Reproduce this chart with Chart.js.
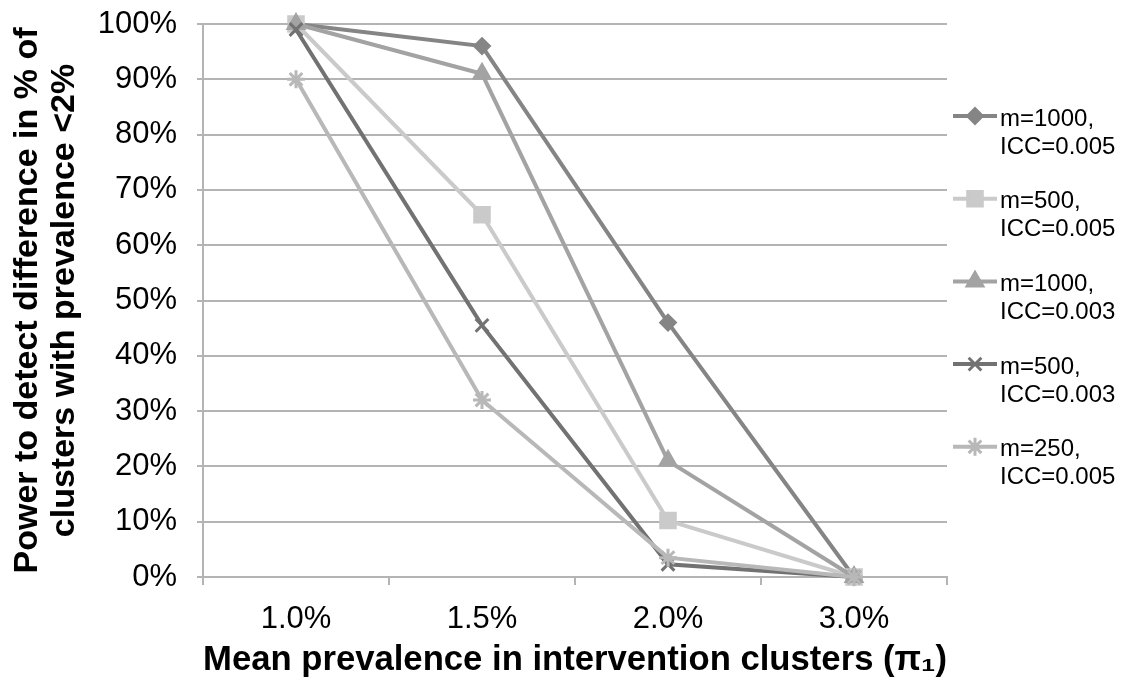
<!DOCTYPE html>
<html>
<head>
<meta charset="utf-8">
<script src="https://cdn.jsdelivr.net/npm/chart.js@4/dist/chart.umd.min.js"></script>
<style>
  html, body { margin: 0; padding: 0; background: #fff; }
  #wrap { width: 1138px; height: 683px; position: relative; }
</style>
</head>
<body>
<div id="wrap"><canvas id="power-chart" width="1138" height="683"></canvas></div>
<script>
// data
const categories = ['1.0%', '1.5%', '2.0%', '3.0%'];
const seriesNames = [
  ['m=1000,', 'ICC=0.005'],
  ['m=500,', 'ICC=0.005'],
  ['m=1000,', 'ICC=0.003'],
  ['m=500,', 'ICC=0.003'],
  ['m=250,', 'ICC=0.005']
];
const m1000Icc005 = [100, 96, 46, 0];
const m500Icc005 = [100, 65.5, 10.2, 0];
const m1000Icc003 = [100, 91, 21, 0];
const m500Icc003 = [99, 45.5, 2.3, 0];
const m250Icc005 = [90, 32, 3.5, 0];

const FONT = "'Liberation Sans', Arial, sans-serif";
const GRID = '#b4b4b4';

const styles = [
  { color: '#858585', point: 'rectRot', radius: 8, bw: 2 },
  { color: '#cacaca', point: 'rect', radius: 11, bw: 2 },
  { color: '#a3a3a3', point: 'triangle', radius: 10, bw: 2 },
  { color: '#727272', point: 'crossRot', radius: 9, bw: 3 },
  { color: '#b8b8b8', point: 'star', radius: 9, bw: 3 }
];
const seriesData = [m1000Icc005, m500Icc005, m1000Icc003, m500Icc003, m250Icc005];

const datasets = seriesData.map((d, i) => ({
  label: seriesNames[i].join(' '),
  data: d,
  borderColor: styles[i].color,
  backgroundColor: styles[i].color,
  borderWidth: 4,
  pointStyle: styles[i].point,
  pointRadius: styles[i].radius,
  pointBorderWidth: styles[i].bw,
  pointBackgroundColor: styles[i].color,
  pointBorderColor: styles[i].color,
  tension: 0,
  clip: false,
  order: 5 - i
}));

// legend at the right: line + marker + two-line label
const sideLegend = {
  id: 'sideLegend',
  afterDraw(chart) {
    const ctx = chart.ctx;
    ctx.save();
    seriesNames.forEach((lines, i) => {
      const st = styles[i];
      const y = 116 + 82.7 * i;
      ctx.strokeStyle = st.color;
      ctx.lineWidth = 4;
      ctx.beginPath();
      ctx.moveTo(953, y);
      ctx.lineTo(997, y);
      ctx.stroke();
      ctx.fillStyle = st.color;
      ctx.lineWidth = st.bw;
      Chart.helpers.drawPoint(ctx, { pointStyle: st.point, radius: st.radius, borderWidth: st.bw, rotation: 0 }, 975, y);
      ctx.fillStyle = '#000';
      ctx.font = '24px ' + FONT;
      ctx.textAlign = 'left';
      ctx.textBaseline = 'middle';
      ctx.fillText(lines[0], 1000, y + 3);
      ctx.fillText(lines[1], 1000, y + 31);
    });
    ctx.restore();
  }
};

const ctx = document.getElementById('power-chart').getContext('2d');
new Chart(ctx, {
  type: 'line',
  data: { labels: categories, datasets: datasets },
  options: {
    responsive: false,
    animation: false,
    devicePixelRatio: 1,
    layout: { padding: { top: 24, right: 191, left: 0, bottom: 0 } },
    plugins: {
      legend: { display: false },
      tooltip: { enabled: false }
    },
    scales: {
      x: {
        offset: true,
        grid: {
          offset: true,
          drawOnChartArea: false,
          drawTicks: true,
          tickLength: 8,
          color: GRID,
          lineWidth: 2
        },
        border: { color: GRID, width: 2 },
        ticks: {
          color: '#000',
          font: { family: FONT, size: 31 },
          padding: 16,
          maxRotation: 0
        },
        title: {
          display: true,
          text: 'Mean prevalence in intervention clusters (\u03c0\u2081)',
          color: '#000',
          font: { family: FONT, size: 35.5, weight: 'bold' },
          padding: { top: 0, bottom: 1 }
        },
        afterFit(scale) {
          scale.height = 106;
          scale.paddingLeft = 0;
          scale.paddingRight = 0;
        }
      },
      y: {
        min: 0,
        max: 100,
        ticks: {
          stepSize: 10,
          color: '#000',
          font: { family: FONT, size: 31 },
          padding: 20,
          callback: v => v + '%'
        },
        grid: { color: GRID, lineWidth: 2, tickLength: 6 },
        border: { color: GRID, width: 2 },
        title: {
          display: true,
          text: ['Power to detect difference in % of', 'clusters with prevalence <2%'],
          color: '#000',
          font: { family: FONT, size: 34, weight: 'bold', lineHeight: 1.1 },
          padding: { top: 9, bottom: 0 }
        },
        afterFit(scale) {
          scale.width = 203;
          scale.paddingTop = 0;
          scale.paddingBottom = 0;
        }
      }
    }
  },
  plugins: [sideLegend]
});
</script>
</body>
</html>
